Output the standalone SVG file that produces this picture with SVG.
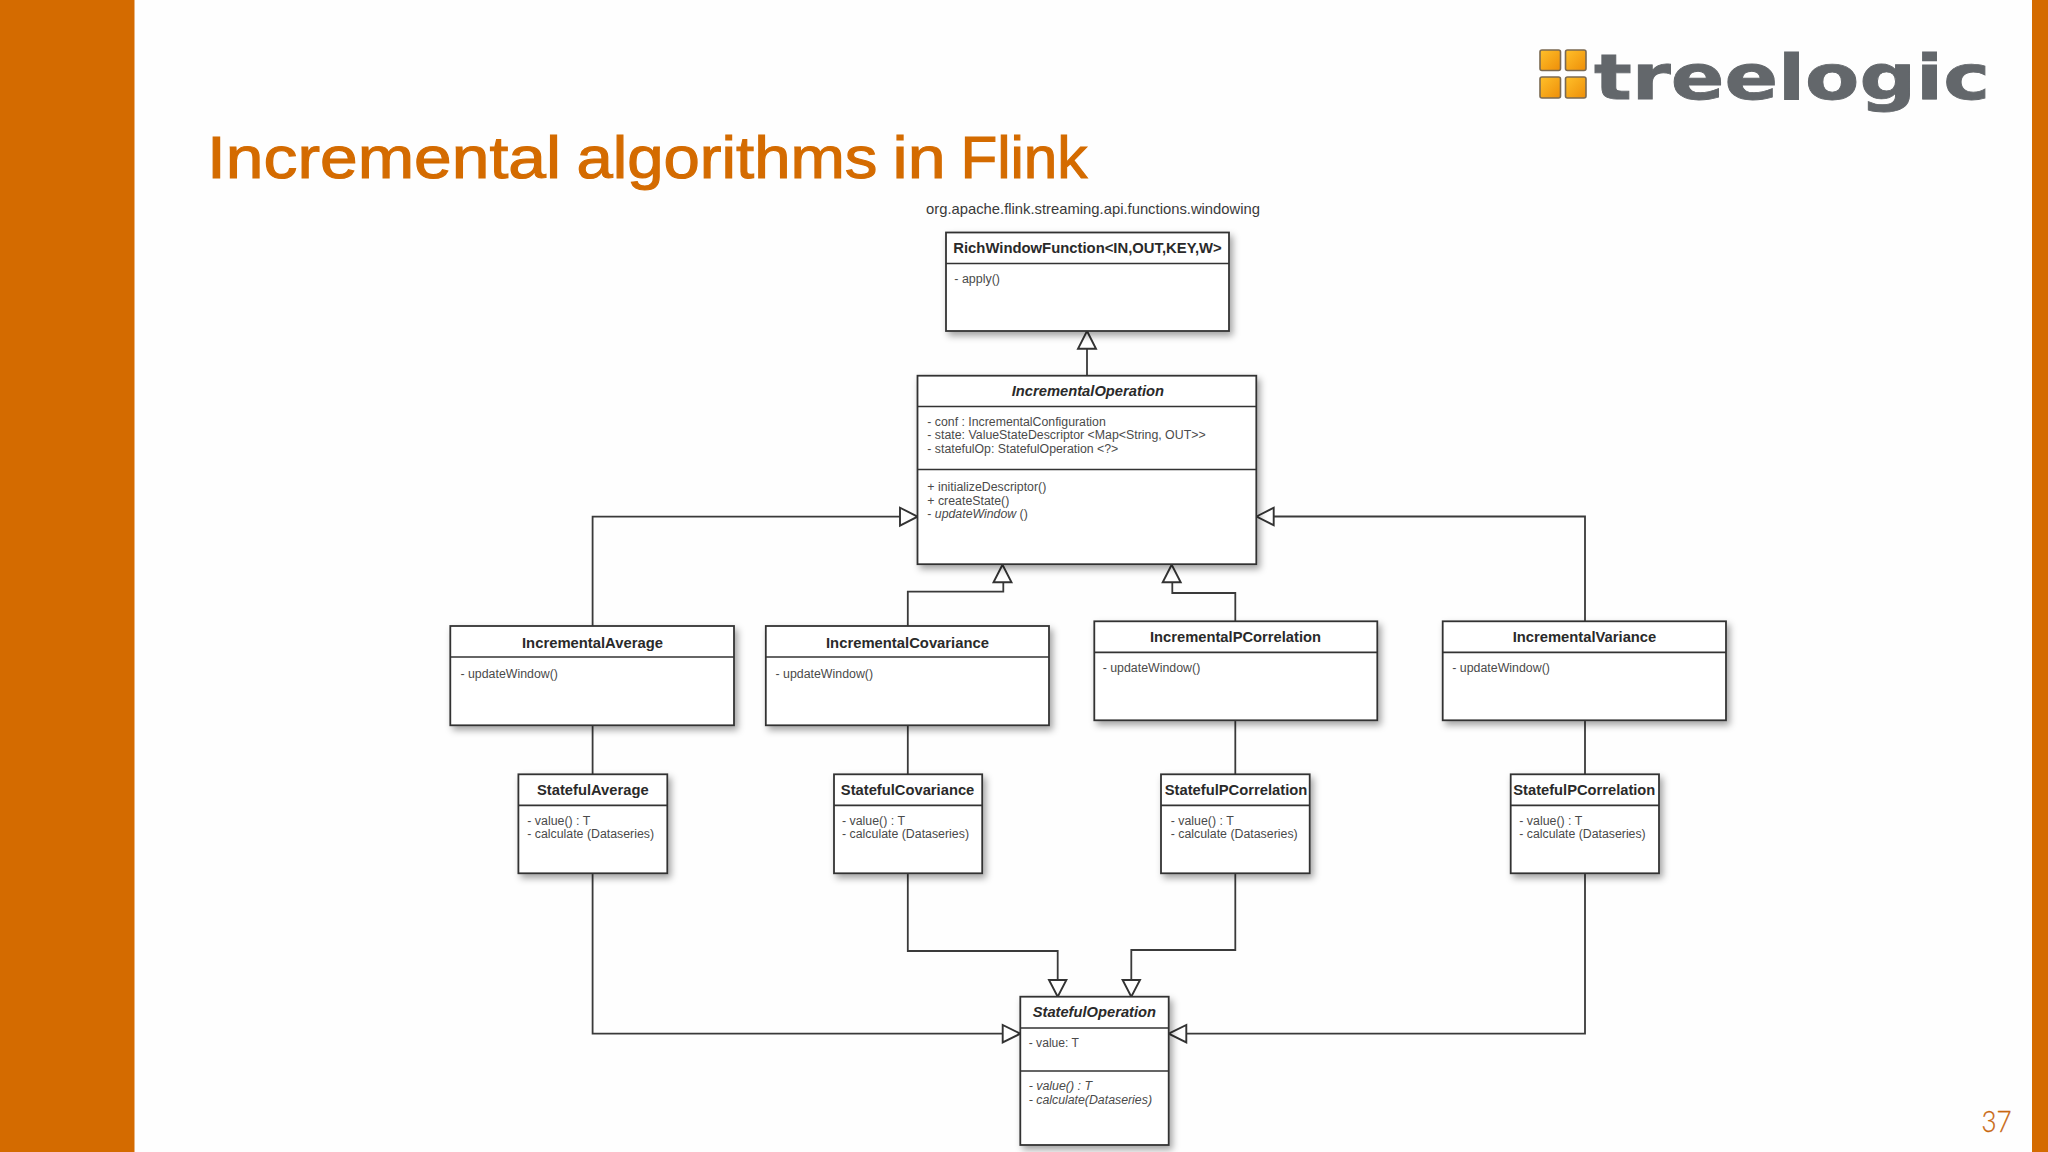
<svg xmlns="http://www.w3.org/2000/svg" width="2048" height="1152" viewBox="0 0 2048 1152">
<style>
text{font-family:"Liberation Sans",Arial,sans-serif}
.box{fill:#fff;stroke:#333;stroke-width:1.8;filter:url(#sh)}
.div{stroke:#333;stroke-width:1.7;fill:none}
.t{font-size:14.5px;font-weight:700;fill:#2a2a2a}
.ti{font-style:italic}
.m{font-size:12px;fill:#4a4a4a}
.mi{font-style:italic}
.c{fill:none;stroke:#3a3a3a;stroke-width:1.8}
.a{fill:#fff;stroke:#333;stroke-width:1.9;stroke-linejoin:miter}
.sq{fill:url(#og);stroke:#7b6a52;stroke-width:1.6}
</style>
<defs>
<filter id="sh" x="-10%" y="-10%" width="125%" height="125%"><feDropShadow dx="3" dy="4" stdDeviation="3.5" flood-color="#000" flood-opacity="0.36"/></filter>
<linearGradient id="og" x1="0" y1="0" x2="1" y2="1"><stop offset="0" stop-color="#FFC02A"/><stop offset="1" stop-color="#EE8E08"/></linearGradient>
</defs>
<rect width="2048" height="1152" fill="#FEFEFE"/>
<rect x="0" y="0" width="134.5" height="1152" fill="#D46B00"/>
<rect x="2032" y="0" width="16" height="1152" fill="#D46B00"/>
<text y="177.5" font-size="60" fill="#D46B00" stroke="#D46B00" stroke-width="1.1"><tspan x="207" textLength="354" lengthAdjust="spacingAndGlyphs">Incremental</tspan> <tspan x="576.5" textLength="301" lengthAdjust="spacingAndGlyphs">algorithms</tspan> <tspan x="892.5" textLength="53" lengthAdjust="spacingAndGlyphs">in</tspan> <tspan x="960.4" textLength="127" lengthAdjust="spacingAndGlyphs">Flink</tspan></text>
<g id="logo">
<rect class="sq" x="1540" y="50" width="20.5" height="20.5" rx="2"/>
<rect class="sq" x="1565.5" y="50" width="20.5" height="20.5" rx="2"/>
<rect class="sq" x="1540" y="77" width="20.5" height="21" rx="2"/>
<rect class="sq" x="1565.5" y="77" width="20.5" height="21" rx="2"/>
<text x="1594" y="99" font-size="62" font-weight="700" textLength="396" lengthAdjust="spacingAndGlyphs" fill="#63676B" stroke="#63676B" stroke-width="0.8" style="font-family:'DejaVu Sans',sans-serif">treelogic</text>
</g>
<text x="1981.5" y="1132.3" font-size="29.5" textLength="30" lengthAdjust="spacingAndGlyphs" fill="#C8660F" stroke="#C8660F" stroke-width="0.3" font-weight="300" style="font-family:Lato,sans-serif">37</text>
<text id="package" x="926" y="214" font-size="14.5" textLength="334" lengthAdjust="spacingAndGlyphs" fill="#3a3a3a">org.apache.flink.streaming.api.functions.windowing</text>

<g id="connectors">
<path class="c" d="M1087 375.7V348"/><polygon class="a" points="1087,331 1096,348.7 1078,348.7"/>
<path class="c" d="M592.6 626V516.7H901"/><polygon class="a" points="917.5,516.7 900,507.7 900,525.7"/>
<path class="c" d="M1585 621.3V516.5H1273.7"/><polygon class="a" points="1256.5,516.5 1273.7,507.7 1273.7,525.3"/>
<path class="c" d="M907.8 626V591.7H1003.3V582"/><polygon class="a" points="1002.5,564.7 1011.5,582.3 993.5,582.3"/>
<path class="c" d="M1235.3 621.3V593H1172.3V582"/><polygon class="a" points="1171.7,564.7 1180.7,582.3 1162.7,582.3"/>
<path class="c" d="M592.6 725V774.3"/>
<path class="c" d="M907.8 725V774.3"/>
<path class="c" d="M1235.3 720V774.3"/>
<path class="c" d="M1585 720V774.3"/>
<path class="c" d="M592.6 873V1033.7H1003"/><polygon class="a" points="1020.3,1033.7 1002.7,1025 1002.7,1042.4"/>
<path class="c" d="M907.8 873V951H1057.7V980"/><polygon class="a" points="1057.7,996.7 1049,980 1066.4,980"/>
<path class="c" d="M1235.3 873V950H1131.3V980"/><polygon class="a" points="1131.3,996.7 1122.6,980 1140,980"/>
<path class="c" d="M1585 873V1033.7H1186.3"/><polygon class="a" points="1168.7,1033.7 1186.3,1025 1186.3,1042.4"/>
</g>

<g id="RichWindowFunction">
<rect class="box" x="946" y="232.5" width="283" height="98.5"/><path class="div" d="M946 263.5H1229"/>
<text class="t" x="953.3" y="252.7" textLength="268.4" lengthAdjust="spacingAndGlyphs">RichWindowFunction&lt;IN,OUT,KEY,W&gt;</text>
<text class="m" x="954.3" y="282.7" textLength="45.7" lengthAdjust="spacingAndGlyphs">- apply()</text>
</g>
<g id="IncrementalOperation">
<rect class="box" x="917.5" y="375.7" width="338.8" height="188.5"/><path class="div" d="M917.5 406.5H1256.3M917.5 469.5H1256.3"/>
<text class="t ti" x="1011.7" y="396" textLength="152.3" lengthAdjust="spacingAndGlyphs">IncrementalOperation</text>
<text class="m" x="927.3" y="425.7" textLength="178.5" lengthAdjust="spacingAndGlyphs">- conf : IncrementalConfiguration</text>
<text class="m" x="927.3" y="439.3" textLength="278.3" lengthAdjust="spacingAndGlyphs">- state: ValueStateDescriptor &lt;Map&lt;String, OUT&gt;&gt;</text>
<text class="m" x="927.3" y="453" textLength="191" lengthAdjust="spacingAndGlyphs">- statefulOp: StatefulOperation &lt;?&gt;</text>
<text class="m" x="927.3" y="491" textLength="119" lengthAdjust="spacingAndGlyphs">+ initializeDescriptor()</text>
<text class="m" x="927.3" y="504.7" textLength="82" lengthAdjust="spacingAndGlyphs">+ createState()</text>
<text class="m" x="927.3" y="518.3" textLength="100.5" lengthAdjust="spacingAndGlyphs">- <tspan class="mi">updateWindow</tspan> ()</text>
</g>
<g id="IncrementalAverage">
<rect class="box" x="450.3" y="626" width="283.7" height="99.3"/><path class="div" d="M450.3 657H734"/>
<text class="t" x="522" y="648.3" textLength="141" lengthAdjust="spacingAndGlyphs">IncrementalAverage</text>
<text class="m" x="460.4" y="677.7" textLength="97.6" lengthAdjust="spacingAndGlyphs">- updateWindow()</text>
</g>
<g id="IncrementalCovariance">
<rect class="box" x="765.8" y="626" width="283.2" height="99.3"/><path class="div" d="M765.8 657H1049"/>
<text class="t" x="826" y="648.3" textLength="163" lengthAdjust="spacingAndGlyphs">IncrementalCovariance</text>
<text class="m" x="775.5" y="677.7" textLength="97.6" lengthAdjust="spacingAndGlyphs">- updateWindow()</text>
</g>
<g id="IncrementalPCorrelation">
<rect class="box" x="1094.3" y="621.3" width="283" height="99"/><path class="div" d="M1094.3 652.3H1377.3"/>
<text class="t" x="1150" y="642" textLength="171" lengthAdjust="spacingAndGlyphs">IncrementalPCorrelation</text>
<text class="m" x="1102.7" y="671.7" textLength="97.6" lengthAdjust="spacingAndGlyphs">- updateWindow()</text>
</g>
<g id="IncrementalVariance">
<rect class="box" x="1442.7" y="621.3" width="283.3" height="99"/><path class="div" d="M1442.7 652.3H1726"/>
<text class="t" x="1512.7" y="642" textLength="143.6" lengthAdjust="spacingAndGlyphs">IncrementalVariance</text>
<text class="m" x="1452.3" y="671.7" textLength="97.6" lengthAdjust="spacingAndGlyphs">- updateWindow()</text>
</g>
<g id="StatefulAverage">
<rect class="box" x="518.4" y="774.3" width="148.9" height="99"/><path class="div" d="M518.4 805.3H667.3"/>
<text class="t" x="537" y="795.3" textLength="111.6" lengthAdjust="spacingAndGlyphs">StatefulAverage</text>
<text class="m" x="527.3" y="825" textLength="63" lengthAdjust="spacingAndGlyphs">- value() : T</text>
<text class="m" x="527.3" y="838.3" textLength="126.7" lengthAdjust="spacingAndGlyphs">- calculate (Dataseries)</text>
</g>
<g id="StatefulCovariance">
<rect class="box" x="834" y="774.3" width="148.2" height="99"/><path class="div" d="M834 805.3H982.2"/>
<text class="t" x="840.8" y="795.3" textLength="133.5" lengthAdjust="spacingAndGlyphs">StatefulCovariance</text>
<text class="m" x="842" y="825" textLength="63" lengthAdjust="spacingAndGlyphs">- value() : T</text>
<text class="m" x="842" y="838.3" textLength="127" lengthAdjust="spacingAndGlyphs">- calculate (Dataseries)</text>
</g>
<g id="StatefulPCorrelation1">
<rect class="box" x="1161" y="774.3" width="148.7" height="99"/><path class="div" d="M1161 805.3H1309.7"/>
<text class="t" x="1164.7" y="795.3" textLength="142.6" lengthAdjust="spacingAndGlyphs">StatefulPCorrelation</text>
<text class="m" x="1170.7" y="825" textLength="63" lengthAdjust="spacingAndGlyphs">- value() : T</text>
<text class="m" x="1170.7" y="838.3" textLength="127" lengthAdjust="spacingAndGlyphs">- calculate (Dataseries)</text>
</g>
<g id="StatefulPCorrelation2">
<rect class="box" x="1510.7" y="774.3" width="148.3" height="99"/><path class="div" d="M1510.7 805.3H1659"/>
<text class="t" x="1513.3" y="795.3" textLength="142" lengthAdjust="spacingAndGlyphs">StatefulPCorrelation</text>
<text class="m" x="1519.3" y="825" textLength="63" lengthAdjust="spacingAndGlyphs">- value() : T</text>
<text class="m" x="1519.3" y="838.3" textLength="126.4" lengthAdjust="spacingAndGlyphs">- calculate (Dataseries)</text>
</g>
<g id="StatefulOperation">
<rect class="box" x="1020.3" y="996.7" width="148.4" height="148.3"/><path class="div" d="M1020.3 1028H1168.7M1020.3 1071H1168.7"/>
<text class="t ti" x="1032.7" y="1017.3" textLength="123.3" lengthAdjust="spacingAndGlyphs">StatefulOperation</text>
<text class="m" x="1028.7" y="1047" textLength="50.3" lengthAdjust="spacingAndGlyphs">- value: T</text>
<text class="m mi" x="1028.7" y="1090" textLength="63.3" lengthAdjust="spacingAndGlyphs">- value() : T</text>
<text class="m mi" x="1028.7" y="1103.7" textLength="123.3" lengthAdjust="spacingAndGlyphs">- calculate(Dataseries)</text>
</g>
</svg>
